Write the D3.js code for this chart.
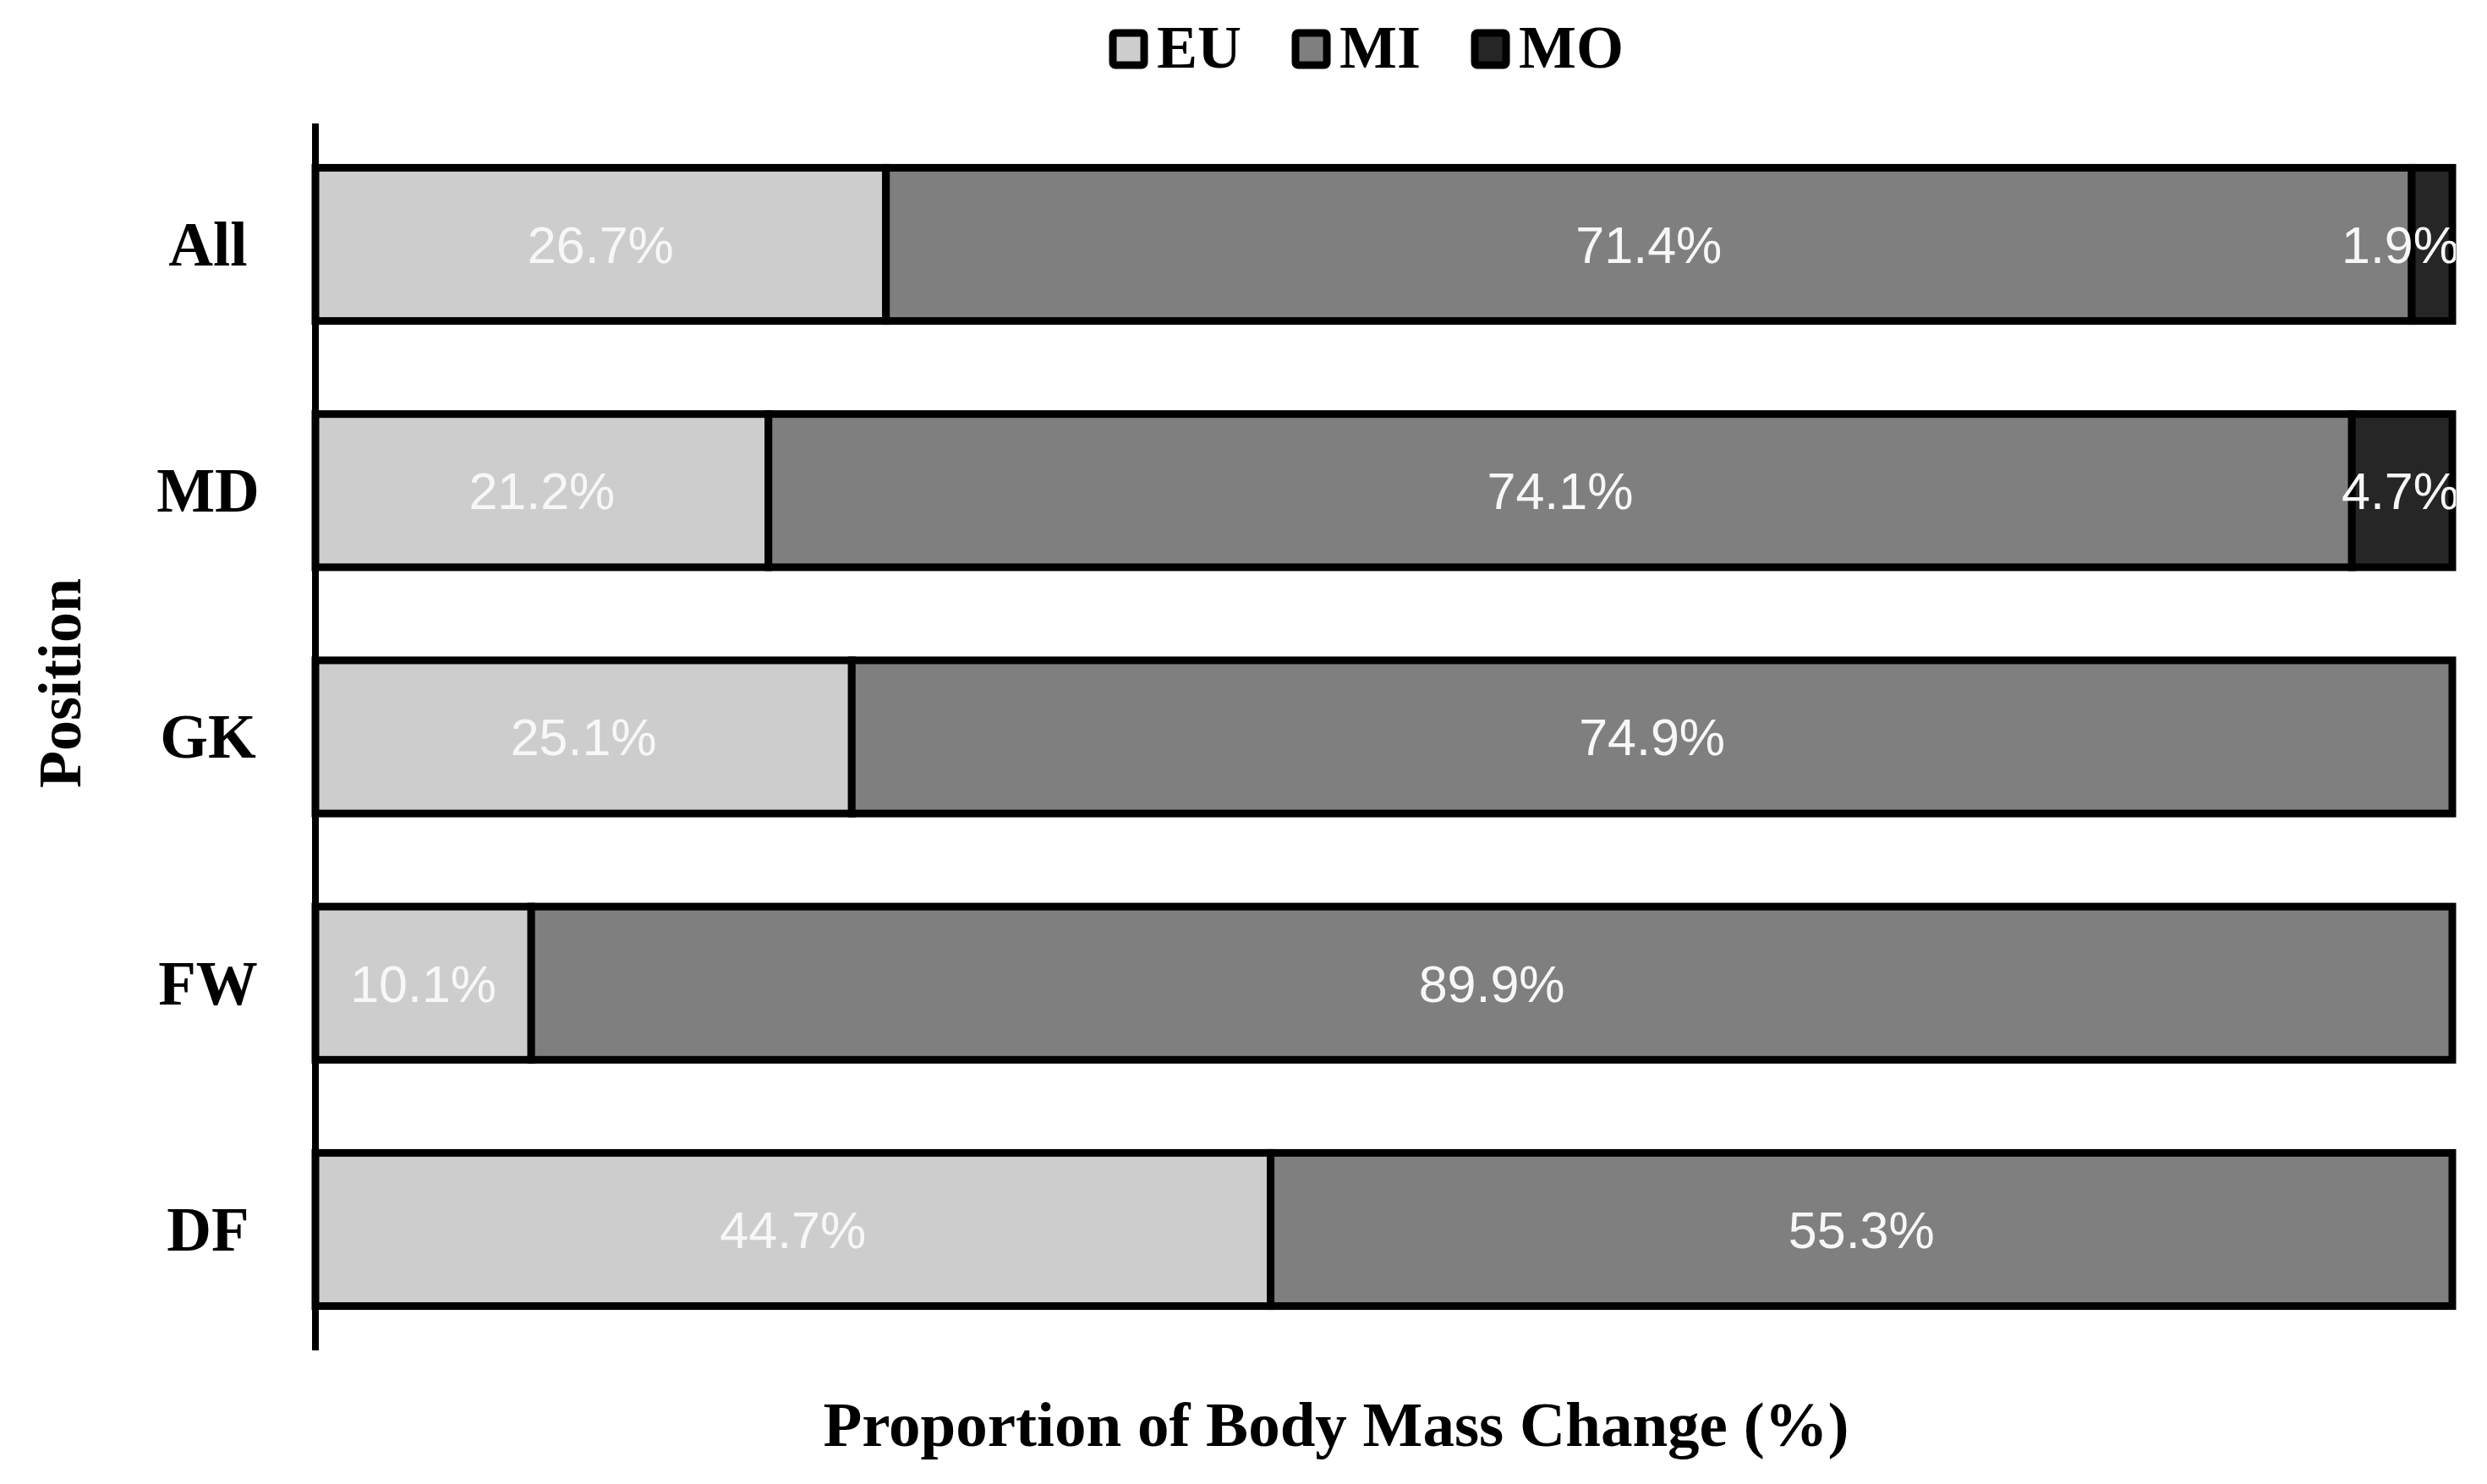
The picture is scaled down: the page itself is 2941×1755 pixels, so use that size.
<!DOCTYPE html>
<html>
<head>
<meta charset="utf-8">
<script src="https://cdn.jsdelivr.net/npm/d3@7"></script>
<style>
  html, body { margin: 0; padding: 0; background: #fff; }
  svg { display: block; }
</style>
</head>
<body>
<div id="chart"></div>
<script>
// Positions, top to bottom
const positions = ['All', 'MD', 'GK', 'FW', 'DF'];
const seriesNames = ['EU', 'MI', 'MO'];
// Proportion of body mass change (%) per position
const euValues = [26.7, 21.2, 25.1, 10.1, 44.7];
const miValues = [71.4, 74.1, 74.9, 89.9, 55.3];
const moValues = [1.9, 4.7, 0, 0, 0];
const seriesColors = ['#cdcdcd', '#7f7f7f', '#262626'];

(function () {
  const width = 2941, height = 1755;
  const serif = '"Liberation Serif", "Times New Roman", serif';
  const sans = '"Liberation Sans", Arial, sans-serif';

  const rows = positions.map((p, i) => ({ position: p, EU: euValues[i], MI: miValues[i], MO: moValues[i] }));
  const stacked = d3.stack().keys(seriesNames)(rows);

  const svg = d3.select('#chart').append('svg')
    .attr('width', width)
    .attr('height', height);

  // plot area
  const left = 373, right = 2900, top = 146, bottom = 1597;

  const x = d3.scaleLinear().domain([0, 100]).range([left, right]);
  const y = d3.scaleBand().domain(positions).range([top, bottom])
    .paddingInner(0.378).paddingOuter(0.18);
  const color = d3.scaleOrdinal().domain(seriesNames).range(seriesColors);

  svg.append('defs').append('clipPath').attr('id', 'plot-clip')
    .append('rect')
    .attr('x', left - 10).attr('y', 0)
    .attr('width', right - left + 14).attr('height', height);

  // bars
  const layers = svg.append('g')
    .selectAll('g')
    .data(stacked)
    .join('g')
    .attr('fill', d => color(d.key));

  layers.selectAll('rect')
    .data(d => d.filter(s => s[1] - s[0] > 0))
    .join('rect')
    .attr('x', d => x(d[0]))
    .attr('y', d => y(d.data.position))
    .attr('width', d => x(d[1]) - x(d[0]))
    .attr('height', y.bandwidth())
    .attr('stroke', '#000')
    .attr('stroke-width', 9);

  // value labels (clipped at the plot edge like the original)
  const labels = svg.append('g').attr('clip-path', 'url(#plot-clip)');
  stacked.forEach(layer => {
    layer.filter(s => s[1] - s[0] > 0).forEach(s => {
      const t = labels.append('text')
        .attr('y', y(s.data.position) + y.bandwidth() / 2)
        .attr('dy', '0.36em')
        .attr('text-anchor', 'middle')
        .attr('font-family', sans)
        .attr('font-size', 61)
        .attr('fill', '#f7f7f7')
        .text(d3.format('.1f')(s[1] - s[0]) + '%');
      const w = t.node().getComputedTextLength();
      const cx = Math.min((x(s[0]) + x(s[1])) / 2, x(100) + 8 - w / 2);
      t.attr('x', cx);
    });
  });

  // y axis
  const yAxis = svg.append('g')
    .attr('transform', `translate(${left},0)`)
    .call(d3.axisLeft(y).tickSize(0).tickPadding(0));
  yAxis.select('.domain').remove();
  yAxis.append('line')
    .attr('x1', 0).attr('x2', 0)
    .attr('y1', top).attr('y2', bottom)
    .attr('stroke', '#000').attr('stroke-width', 8);
  yAxis.selectAll('.tick text')
    .attr('x', -127)
    .attr('dy', '0.34em')
    .attr('text-anchor', 'middle')
    .attr('font-family', serif)
    .attr('font-weight', 'bold')
    .attr('font-size', 73)
    .attr('fill', '#000');

  // axis titles
  svg.append('text')
    .attr('transform', `translate(95,808) rotate(-90)`)
    .attr('text-anchor', 'middle')
    .attr('font-family', serif)
    .attr('font-weight', 'bold')
    .attr('font-size', 72)
    .text('Position');

  svg.append('text')
    .attr('x', 1580).attr('y', 1710)
    .attr('text-anchor', 'middle')
    .attr('font-family', serif)
    .attr('font-weight', 'bold')
    .attr('font-size', 75)
    .text('Proportion of Body Mass Change (%)');

  // legend
  const legend = svg.append('g');
  let lx = 0;
  seriesNames.forEach(name => {
    const g = legend.append('g').attr('transform', `translate(${lx},0)`);
    g.append('rect')
      .attr('x', 4).attr('y', 39)
      .attr('width', 37).attr('height', 38)
      .attr('rx', 3)
      .attr('fill', color(name))
      .attr('stroke', '#000').attr('stroke-width', 9);
    const t = g.append('text')
      .attr('x', 56).attr('y', 80)
      .attr('font-family', serif)
      .attr('font-weight', 'bold')
      .attr('font-size', 72)
      .text(name);
    lx += 56 + t.node().getComputedTextLength() + 60;
  });
  const legendWidth = lx - 60;
  legend.attr('transform', `translate(${1616 - legendWidth / 2},0)`);
})();
</script>
</body>
</html>
